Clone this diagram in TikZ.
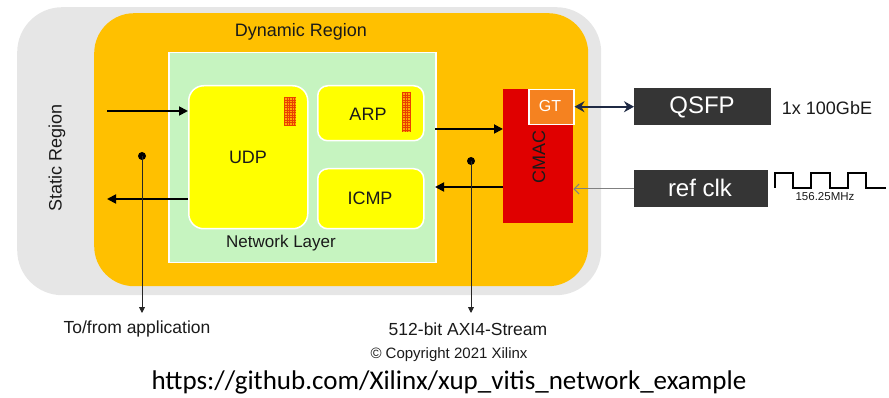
\documentclass[tikz,border=0pt]{standalone}
\usepackage{fontspec}
\setmainfont{Liberation Sans}
\newfontfamily\urlfont{Carlito}
\usetikzlibrary{arrows.meta}
\definecolor{staticgrey}{HTML}{E6E6E6}
\definecolor{dynorange}{HTML}{FFC000}
\definecolor{netgreen}{HTML}{C6F4C0}
\definecolor{blockyellow}{HTML}{FFFF00}
\definecolor{cmacred}{HTML}{E00000}
\definecolor{gtorange}{HTML}{F58220}
\definecolor{darkbox}{HTML}{353535}
\definecolor{navy}{HTML}{1F2A44}
\definecolor{hatchfill}{HTML}{FFA800}
\definecolor{hatchline}{HTML}{E84000}
\definecolor{textdark}{HTML}{1A1A1A}
\begin{document}
\begin{tikzpicture}[x=1pt,y=-1pt,
  region/.style={inner sep=0pt, anchor=north west, draw=none},
  block/.style={inner sep=0pt, anchor=north west, fill=blockyellow, draw=white, line width=1.5pt},
  ext/.style={inner sep=0pt, anchor=north west, fill=darkbox},
  exttxt/.style={text=white, font=\fontsize{24}{26}\selectfont},
  lbl/.style={text=textdark, font=\fontsize{18}{20}\selectfont},
  busarrow/.style={draw=black, line width=1.8pt, -{Triangle[length=9pt,width=9pt]}},
  tapline/.style={draw=black!85, line width=0.9pt, -{Triangle[length=6pt,width=6pt]}},
  tapdot/.style={circle, fill=black, inner sep=0pt, minimum size=8pt},
]
\useasboundingbox (0,0) rectangle (889,398);

% nested regions
\node[region, fill=staticgrey, rounded corners=45pt, minimum width=584pt, minimum height=288pt] (static) at (17,7) {};
\node[region, fill=dynorange, rounded corners=40pt, minimum width=494pt, minimum height=273pt] (dynamic) at (94,13) {};
\node[region, fill=netgreen, draw=white, line width=1.5pt, minimum width=267pt, minimum height=210pt] (netlayer) at (168,52) {};

\node[lbl] (dyntitle) at (301,32) {Dynamic Region};
\node[lbl, rotate=90] (stattitle) at (57,158) {Static Region};
\node[lbl, font=\fontsize{17}{19}\selectfont] (nettitle) at (281,243) {Network Layer};

% protocol blocks
\node[block, rounded corners=15pt, minimum width=119pt, minimum height=143pt] (udp) at (188,85) {};
\node[block, rounded corners=10pt, minimum width=106pt, minimum height=55pt] (arp) at (317,85) {};
\node[block, rounded corners=10pt, minimum width=106pt, minimum height=60pt] (icmp) at (317,168) {};
\node[lbl] (udptxt) at (248,157) {UDP};
\node[lbl] (arptxt) at (368,114) {ARP};
\node[lbl] (icmptxt) at (370,198) {ICMP};

% hatched memory marks
\fill[hatchfill] (284,97) rectangle (296,126);
\foreach \xx in {284.5,287,...,296} \draw[hatchline, line width=0.5pt] (\xx,97) -- (\xx,126);
\foreach \yy in {97.5,100,...,126} \draw[hatchline, line width=0.5pt] (284,\yy) -- (296,\yy);
\fill[hatchfill] (402,92) rectangle (410,132);
\foreach \xx in {402.5,405,...,410} \draw[hatchline, line width=0.5pt] (\xx,92) -- (\xx,132);
\foreach \yy in {92.5,95,...,132} \draw[hatchline, line width=0.5pt] (402,\yy) -- (410,\yy);

% CMAC and GT
\node[region, fill=cmacred, minimum width=70pt, minimum height=134pt] (cmac) at (503,89) {};
\node[lbl, rotate=90] (cmactxt) at (539,157) {CMAC};
\node[region, fill=gtorange, draw=white, line width=1.5pt, minimum width=45pt, minimum height=35pt] (gt) at (528,89) {};
\node[text=white, font=\fontsize{16}{18}\selectfont] (gttxt) at (550,106) {GT};

% external parts
\node[ext, minimum width=137pt, minimum height=37pt] (qsfp) at (634,88) {};
\node[exttxt] (qsfptxt) at (702,107) {QSFP};
\node[lbl] (speed) at (827,108) {1x 100GbE};
\node[ext, minimum width=134pt, minimum height=37pt] (refclk) at (634,170) {};
\node[exttxt] (refclktxt) at (700,188) {ref clk};
\draw[black, line width=1.3pt] (775,188) -- (775,173) -- (793,173) -- (793,188) -- (811,188) -- (811,173)
  -- (830,173) -- (830,188) -- (848,188) -- (848,173) -- (866,173) -- (866,188) -- (886,188);
\node[text=textdark, font=\fontsize{11.5}{13}\selectfont] (freq) at (825,197) {156.25MHz};

% connectors to the outside
\draw[navy, line width=2.3pt, {Stealth[length=10pt,width=11pt]}-{Stealth[length=10pt,width=11pt]}]
  (gt.east |- qsfp.west) -- (qsfp.west);
\coordinate (clkin) at (cmac.east |- 0,189);
\draw[black!50, line width=1pt, -{Straight Barb[length=5pt,width=10pt]}] (refclk.west |- clkin) -- (clkin);

% streaming buses
\coordinate (appin) at (107,111);
\coordinate (appout) at (107,199);
\draw[busarrow] (appin) -- (appin -| udp.west);
\draw[busarrow] (appout -| udp.west) -- (appout);
\coordinate (netout) at (435,129);
\coordinate (netin) at (435,187);
\draw[busarrow] (netout) -- (netout -| cmac.west);
\draw[busarrow] (netin -| cmac.west) -- (netin);

% tap points
\node[tapdot] (tapL) at (142,156) {};
\node[tapdot] (tapR) at (471,161) {};
\coordinate (tapLend) at (142,313);
\coordinate (tapRend) at (471,313);
\draw[tapline] (tapL.center) -- (tapLend);
\draw[tapline] (tapR.center) -- (tapRend);

% captions
\node[text=textdark, font=\fontsize{17.5}{19}\selectfont] (applbl) at (137,329) {To/from application};
\node[text=textdark, font=\fontsize{17.5}{19}\selectfont] (axilbl) at (468,329) {512-bit AXI4-Stream};
\node[text=textdark, font=\fontsize{15}{17}\selectfont] (copy) at (449,355) {© Copyright 2021 Xilinx};
\node[font=\urlfont\fontsize{27}{30}\selectfont] (url) at (449,382) {https://github.com/Xilinx/xup\_vitis\_network\_example};
\end{tikzpicture}
\end{document}
